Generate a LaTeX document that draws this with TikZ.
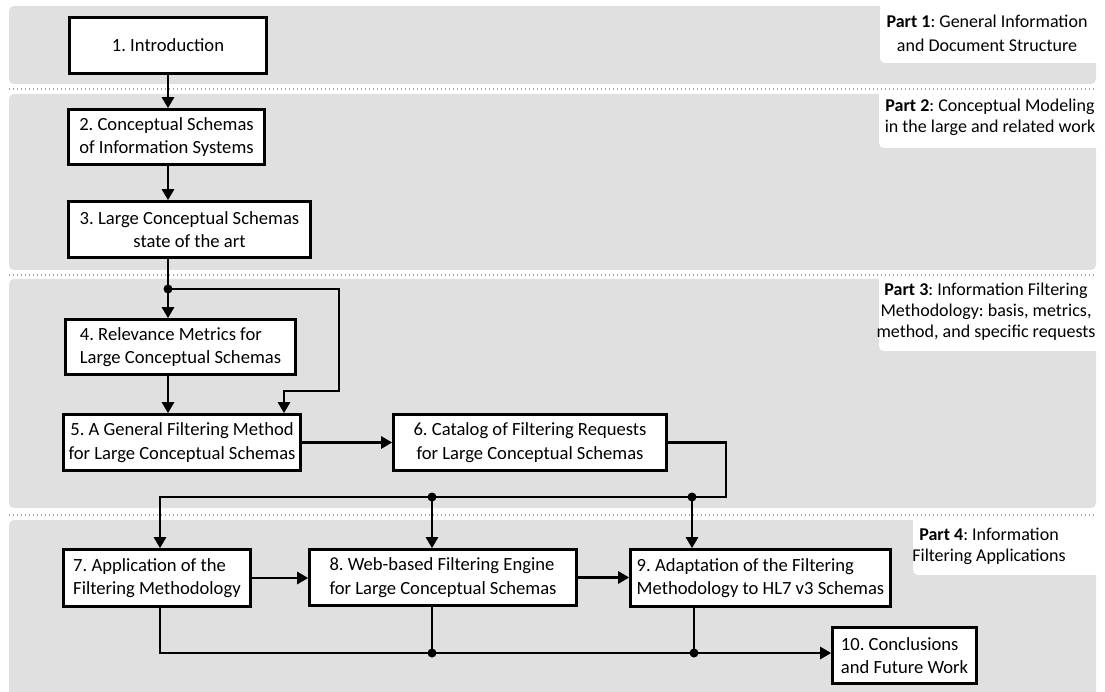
\documentclass[tikz,border=0pt]{standalone}
\usepackage{fontspec}
\setmainfont{Carlito}
\usetikzlibrary{arrows.meta}
\definecolor{bandgray}{RGB}{224,224,224}
\definecolor{dotgray}{RGB}{165,165,165}

\begin{document}
\frenchspacing
\begin{tikzpicture}[x=1pt,y=-1pt,
  band/.style={fill=bandgray, draw=none, rounded corners=5pt},
  labelbg/.style={fill=white, draw=none, rounded corners=5pt},
  sep/.style={dotgray, line width=1.3pt, dash pattern=on 1.3pt off 2.7pt},
  box/.style={draw=black, line width=2.6pt, fill=white, inner sep=0pt,
    font=\fontsize{18.6}{23.5}\selectfont, align=left},
  partlabel/.style={font=\fontsize{18}{21}\selectfont, align=center, inner sep=0pt},
  line/.style={line width=2.6pt},
  conn/.style={line width=2.6pt, -{Triangle[width=12pt,length=11pt]}},
]
\useasboundingbox (0,0) rectangle (1105,692);

% part bands
\begin{scope}
  \clip (0,0) rectangle (1105,692);
  \fill[band] (9,6) rectangle (1096,84);
  \fill[band] (9,94) rectangle (1096,270);
  \fill[band] (9,279) rectangle (1096,508);
  \fill[band] (9,520) rectangle (1096,710);
  % white tabs holding the part titles
  \fill[labelbg] (880,-10) rectangle (1110,63);
  \fill[labelbg] (879,88) rectangle (1110,148);
  \fill[labelbg] (879,272) rectangle (1110,351);
  \fill[labelbg] (913,512) rectangle (1110,575);
\end{scope}

% dotted separators between parts
\draw[sep] (9,89) -- (1096,89);
\draw[sep] (9,275) -- (1096,275);
\draw[sep] (9,515) -- (1096,515);

% part titles
\node[partlabel, font=\fontsize{18}{24}\selectfont] (p1) at (987,33)
  {\textbf{Part 1}: General Information\\and Document Structure};
\node[partlabel] (p2) at (990,117)
  {\textbf{Part 2}: Conceptual Modeling\\in the large and related work};
\node[partlabel] (p3) at (986,312)
  {\textbf{Part 3}: Information Filtering\\Methodology: basis, metrics,\\method, and specific requests};
\node[partlabel] (p4) at (989,546)
  {\textbf{Part 4}: Information\\Filtering Applications};

% chapters
\node[box, minimum width=197pt, minimum height=56pt] (n1) at (168,45.5) {1. Introduction};
\node[box, minimum width=196pt, minimum height=55pt] (n2) at (166.5,137) {2. Conceptual Schemas\\of Information Systems};
\node[box, align=center, minimum width=242pt, minimum height=56pt] (n3) at (189.5,229.5) {3. Large Conceptual Schemas\\state of the art};
\node[box, minimum width=230pt, minimum height=55pt] (n4) at (180.5,347) {4. Relevance Metrics for\\Large Conceptual Schemas};
\node[box, align=center, minimum width=237pt, minimum height=56pt] (n5) at (182,442.5) {5. A General Filtering Method\\for Large Conceptual Schemas};
\node[box, align=center, minimum width=273pt, minimum height=56pt] (n6) at (530,442.5) {6. Catalog of Filtering Requests\\for Large Conceptual Schemas};
\node[box, minimum width=187pt, minimum height=57pt] (n7) at (157,578) {7. Application of the\\Filtering Methodology};
\node[box, minimum width=267pt, minimum height=56pt] (n8) at (443,577.5) {8. Web-based Filtering Engine\\for Large Conceptual Schemas};
\node[box, minimum width=260pt, minimum height=57pt] (n9) at (760.5,578) {9. Adaptation of the Filtering\\Methodology to HL7 v3 Schemas};
\node[box, minimum width=144pt, minimum height=56pt] (n10) at (904.5,655.5) {10. Conclusions\\and Future Work};

% routing points
\coordinate (spine) at (168,0);
\coordinate (j1) at (168,289);
\coordinate (r1) at (339,391);
\coordinate (r2) at (284,0);
\coordinate (r3) at (726,497);
\coordinate (c7) at (160,0);
\coordinate (j2) at (432,497);
\coordinate (j3) at (692,497);
\coordinate (bus) at (0,653);
\coordinate (j4) at (432,653);
\coordinate (j5) at (694,653);

% connectors
\draw[conn] (n1.south -| spine) -- (n2.north -| spine);
\draw[conn] (n2.south -| spine) -- (n3.north -| spine);
\draw[conn] (n3.south -| spine) -- (n4.north -| spine);
\draw[conn] (j1) -| (r1) -| (r2 |- n5.north);
\draw[conn] (n4.south -| spine) -- (n5.north -| spine);
\draw[conn] (n5.east) -- (n6.west);
\draw[conn] (n6.east) -| (r3) -| (c7 |- n7.north);
\draw[conn] (j2) -- (j2 |- n8.north);
\draw[conn] (j3) -- (j3 |- n9.north);
\draw[conn] (n7.east) -- (n7.east -| n8.west);
\draw[conn] (n8.east) -- (n8.east -| n9.west);
\draw[conn] (c7 |- n7.south) |- (n10.west |- bus);
\draw[line] (j4 |- n8.south) -- (j4);
\draw[line] (j5 |- n9.south) -- (j5);

% junction dots
\foreach \j in {j1,j2,j3,j4,j5}
  \fill (\j) circle (4.5pt);
\end{tikzpicture}
\end{document}
